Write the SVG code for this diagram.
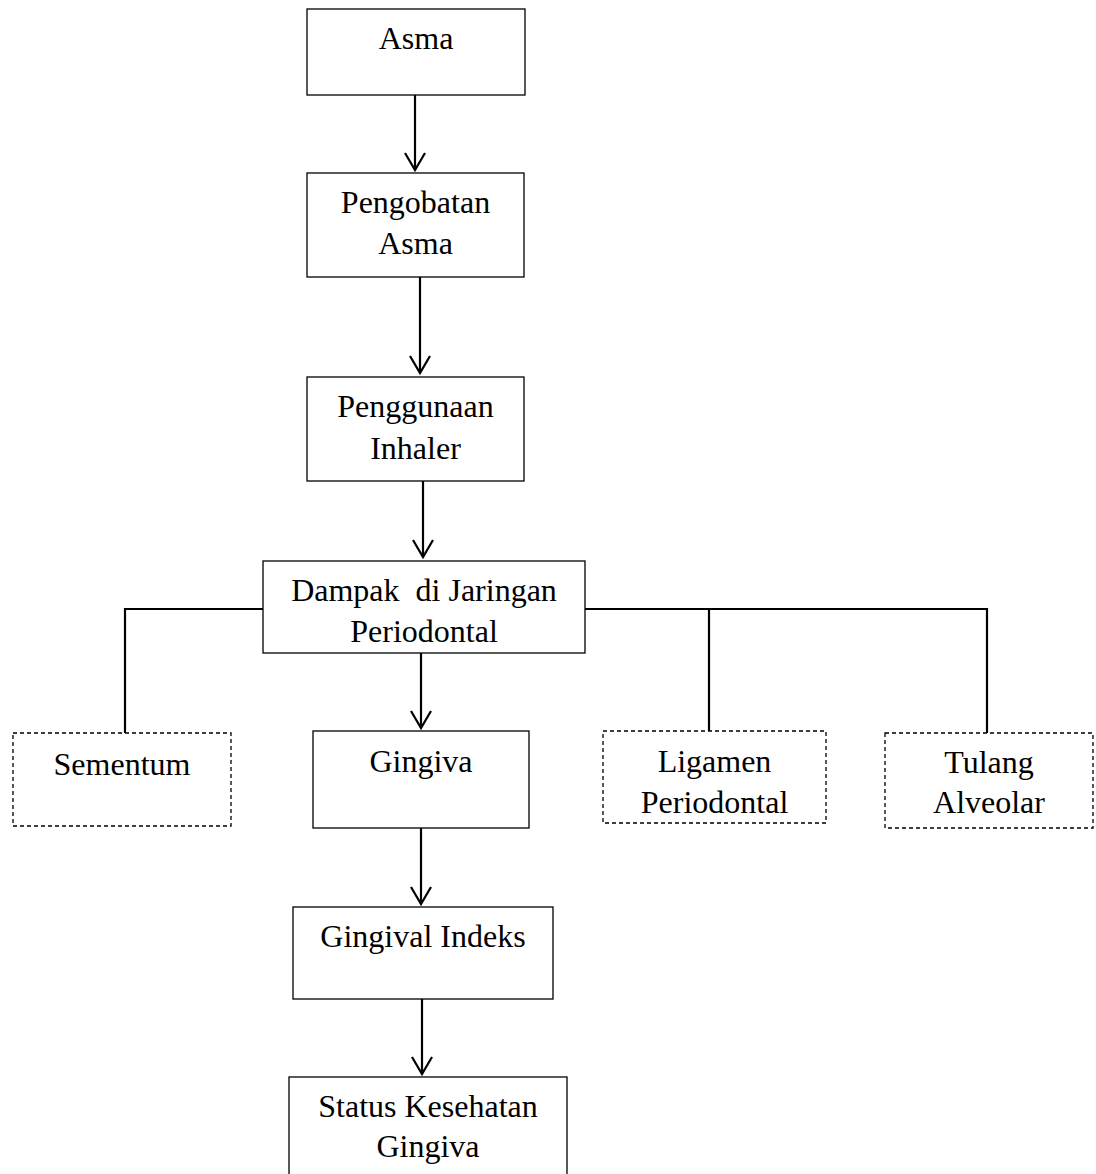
<svg xmlns="http://www.w3.org/2000/svg" width="1096" height="1174" viewBox="0 0 1096 1174">
<style>
.box{fill:#fff;stroke:#000;stroke-width:1.3}
.dash{fill:#fff;stroke:#000;stroke-width:1.3;stroke-dasharray:4 3}
.t{font-family:"Liberation Serif","Times New Roman",serif;font-size:32px;fill:#000;text-anchor:middle}
.c{fill:none;stroke:#000;stroke-width:2.2}
</style>
<defs>
<marker id="arr" viewBox="-19 -12 21 24" refX="0" refY="0" markerWidth="21" markerHeight="24" markerUnits="userSpaceOnUse" orient="auto" overflow="visible">
<path d="M-17,-10 L0,0 L-17,10" fill="none" stroke="#000" stroke-width="2.2"/>
</marker>
</defs>
<rect width="1096" height="1174" fill="#fff"/>
<g id="connectors">
<line class="c" x1="415" y1="95" x2="415" y2="170" marker-end="url(#arr)"/>
<line class="c" x1="420" y1="277" x2="420" y2="373" marker-end="url(#arr)"/>
<line class="c" x1="423" y1="481" x2="423" y2="557" marker-end="url(#arr)"/>
<line class="c" x1="421" y1="653" x2="421" y2="728" marker-end="url(#arr)"/>
<line class="c" x1="421" y1="828" x2="421" y2="904" marker-end="url(#arr)"/>
<line class="c" x1="422" y1="999" x2="422" y2="1074" marker-end="url(#arr)"/>
<polyline class="c" points="125,733 125,609 263,609"/>
<polyline class="c" points="585,609 987,609 987,733"/>
<line class="c" x1="709" y1="609" x2="709" y2="731"/>
</g>
<g id="asma">
<rect class="box" x="307" y="9" width="218" height="86"/>
<text class="t" x="416" y="49">Asma</text>
</g>
<g id="pengobatan">
<rect class="box" x="307" y="173" width="217" height="104"/>
<text class="t" x="415.5" y="213">Pengobatan</text>
<text class="t" x="415.5" y="254">Asma</text>
</g>
<g id="penggunaan">
<rect class="box" x="307" y="377" width="217" height="104"/>
<text class="t" x="415.5" y="417">Penggunaan</text>
<text class="t" x="415.5" y="459">Inhaler</text>
</g>
<g id="dampak">
<rect class="box" x="263" y="561" width="322" height="92"/>
<text class="t" x="424" y="601" xml:space="preserve">Dampak  di Jaringan</text>
<text class="t" x="424" y="642">Periodontal</text>
</g>
<g id="sementum">
<rect class="dash" x="13" y="733" width="218" height="93"/>
<text class="t" x="122" y="775">Sementum</text>
</g>
<g id="gingiva">
<rect class="box" x="313" y="731" width="216" height="97"/>
<text class="t" x="421" y="772">Gingiva</text>
</g>
<g id="ligamen">
<rect class="dash" x="603" y="731" width="223" height="92"/>
<text class="t" x="714.5" y="772">Ligamen</text>
<text class="t" x="714.5" y="813">Periodontal</text>
</g>
<g id="tulang">
<rect class="dash" x="885" y="733" width="208" height="95"/>
<text class="t" x="989" y="773">Tulang</text>
<text class="t" x="989" y="813">Alveolar</text>
</g>
<g id="gingival-indeks">
<rect class="box" x="293" y="907" width="260" height="92"/>
<text class="t" x="423" y="947">Gingival Indeks</text>
</g>
<g id="status">
<rect class="box" x="289" y="1077" width="278" height="110"/>
<text class="t" x="428" y="1117">Status Kesehatan</text>
<text class="t" x="428" y="1157">Gingiva</text>
</g>
</svg>
